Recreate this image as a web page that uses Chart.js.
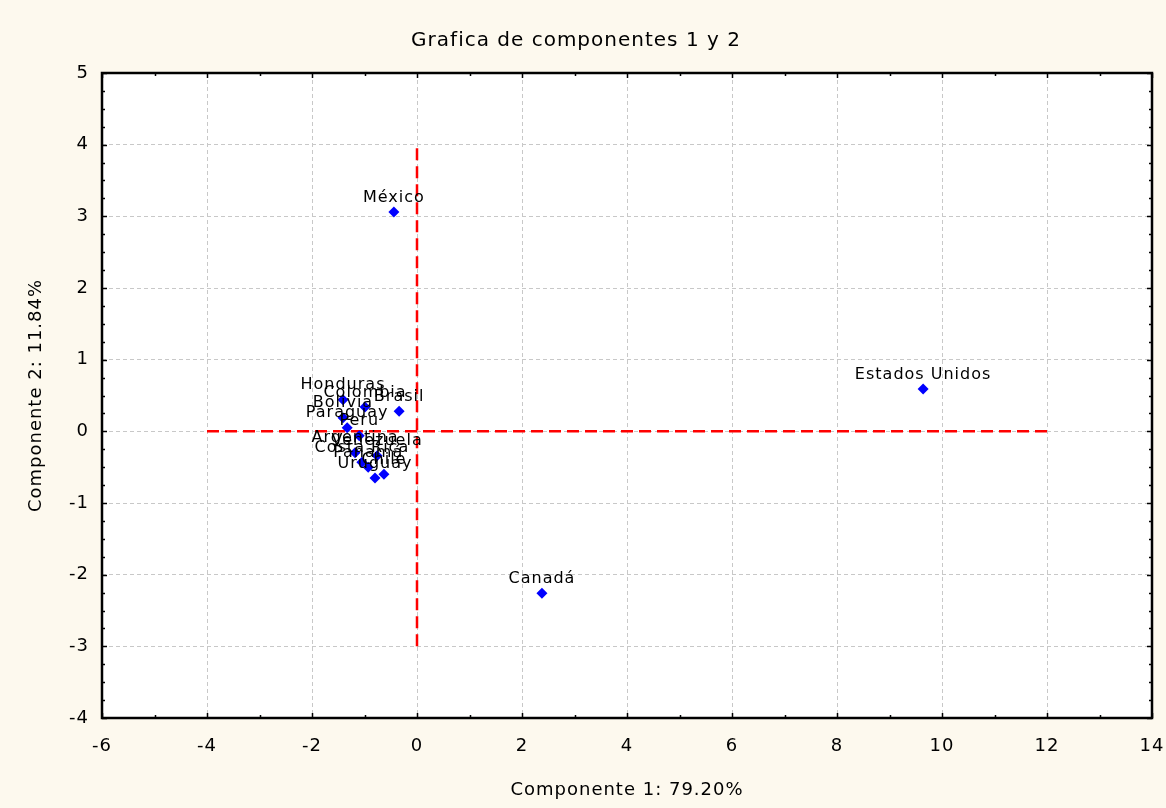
<!DOCTYPE html>
<html lang="es">
<head>
    <meta charset="UTF-8">
    <title>Grafica de componentes 1 y 2</title>
    <script src="https://cdn.jsdelivr.net/npm/chart.js"></script>
    <style>
        body { margin: 0; background: #fdf9ee; }
    </style>
</head>
<body>
    <canvas id="grafica" width="1166" height="808"></canvas>

    <script>
        // Datos
        const paises = ['México', 'Estados Unidos', 'Canadá', 'Honduras', 'Colombia', 'Brasil', 'Bolivia',
                        'Paraguay', 'Peru', 'Argentina', 'Venezuela', 'Costa Rica', 'Panamá', 'Chile', 'Uruguay'];
        const comp1 = [-0.44, 9.64, 2.38, -1.41, -0.99, -0.34, -1.41, -1.33, -1.10, -1.18, -0.76, -1.05, -0.93, -0.63, -0.80];
        const comp2 = [3.06, 0.59, -2.26, 0.44, 0.34, 0.28, 0.19, 0.05, -0.06, -0.30, -0.34, -0.43, -0.50, -0.60, -0.65];

        // Lineas de referencia (ejes en cero)
        const lineaHx = [-4, 12];
        const lineaHy = [0, 0];
        const lineaVx = [0, 0];
        const lineaVy = [-3, 4];

        const xTicks = { min: -6, max: 14, paso: 2, menor: 1 };
        const yTicks = { min: -4, max: 5, paso: 1, menor: 0.25 };

        const fuente = "'DejaVu Sans', Verdana, sans-serif";

        // fondo crema y area blanca
        const fondo = {
            id: 'fondo',
            beforeDraw(chart) {
                const ctx = chart.ctx;
                const a = chart.chartArea;
                ctx.save();
                ctx.fillStyle = '#fdf9ee';
                ctx.fillRect(0, 0, chart.width, chart.height);
                ctx.fillStyle = '#ffffff';
                ctx.fillRect(a.left, a.top, a.right - a.left, a.bottom - a.top);
                ctx.restore();
                ctx.letterSpacing = '1px';
            }
        };

        // nombres de los paises encima de cada punto
        const etiquetas = {
            id: 'etiquetas',
            afterDatasetsDraw(chart) {
                const ctx = chart.ctx;
                const meta = chart.getDatasetMeta(0);
                ctx.save();
                ctx.letterSpacing = '1px';
                ctx.font = '16px ' + fuente;
                ctx.fillStyle = '#000000';
                ctx.textAlign = 'center';
                ctx.textBaseline = 'middle';
                meta.data.forEach((p, i) => {
                    ctx.fillText(paises[i], p.x, p.y - 14.5);
                });
                ctx.restore();
            }
        };

        // marco negro con marcas hacia dentro
        const marco = {
            id: 'marco',
            afterDraw(chart) {
                const ctx = chart.ctx;
                const a = chart.chartArea;
                const xs = chart.scales.x, ys = chart.scales.y;
                ctx.save();
                ctx.strokeStyle = '#000000';
                ctx.lineWidth = 1.5;
                ctx.beginPath();
                for (let v = xTicks.min; v <= xTicks.max; v += xTicks.menor) {
                    const px = Math.round(xs.getPixelForValue(v)) + 0.5;
                    const len = (v - xTicks.min) % xTicks.paso === 0 ? 5 : 3;
                    ctx.moveTo(px, a.bottom); ctx.lineTo(px, a.bottom - len);
                    ctx.moveTo(px, a.top); ctx.lineTo(px, a.top + len);
                }
                for (let v = yTicks.min; v <= yTicks.max + 1e-9; v += yTicks.menor) {
                    const py = Math.round(ys.getPixelForValue(v)) + 0.5;
                    const len = Math.abs(v - Math.round(v)) < 1e-9 ? 5 : 3;
                    ctx.moveTo(a.left, py); ctx.lineTo(a.left + len, py);
                    ctx.moveTo(a.right, py); ctx.lineTo(a.right - len, py);
                }
                ctx.stroke();
                ctx.lineWidth = 2.5;
                ctx.strokeRect(a.left, a.top, a.right - a.left, a.bottom - a.top);
                ctx.restore();
            }
        };

        const puntos = paises.map((p, i) => ({ x: comp1[i], y: comp2[i] }));

        window.onload = () => {
            const ctx = document.getElementById('grafica').getContext('2d');
            new Chart(ctx, {
                type: 'scatter',
                data: {
                    datasets: [
                        {
                            label: 'Paises',
                            data: puntos,
                            pointStyle: 'rectRot',
                            pointRadius: 5.5,
                            backgroundColor: '#0000ff',
                            borderColor: '#0000ff',
                            borderWidth: 0
                        },
                        {
                            type: 'line',
                            label: 'Componente 2 = 0',
                            data: lineaHx.map((x, i) => ({ x: x, y: lineaHy[i] })),
                            borderColor: '#ff0000',
                            borderWidth: 2.5,
                            borderDash: [12, 6],
                            pointRadius: 0,
                            fill: false
                        },
                        {
                            type: 'line',
                            label: 'Componente 1 = 0',
                            data: lineaVx.map((x, i) => ({ x: x, y: lineaVy[i] })),
                            borderColor: '#ff0000',
                            borderWidth: 2.5,
                            borderDash: [12, 6],
                            pointRadius: 0,
                            fill: false
                        }
                    ]
                },
                options: {
                    responsive: false,
                    animation: false,
                    layout: { padding: { left: 0, right: 14, top: 0, bottom: 0 } },
                    plugins: {
                        legend: { display: false },
                        tooltip: { enabled: false },
                        title: {
                            display: true,
                            text: 'Grafica de componentes 1 y 2',
                            color: '#000000',
                            font: { family: fuente, size: 20, weight: 'normal' },
                            padding: { top: 29, bottom: 20 }
                        }
                    },
                    scales: {
                        x: {
                            type: 'linear',
                            min: xTicks.min,
                            max: xTicks.max,
                            afterFit(scale) {
                                scale.height = 90;
                                scale.paddingLeft = 0;
                                scale.paddingRight = 0;
                            },
                            ticks: {
                                stepSize: xTicks.paso,
                                color: '#000000',
                                padding: 18,
                                font: { family: fuente, size: 18 }
                            },
                            grid: { color: '#c8c8c8', drawTicks: false, lineWidth: 1 },
                            border: { display: false, dash: [4, 3] },
                            title: {
                                display: true,
                                text: 'Componente 1: 79.20%',
                                color: '#000000',
                                font: { family: fuente, size: 18 },
                                padding: { top: 0, bottom: 7 }
                            }
                        },
                        y: {
                            type: 'linear',
                            min: yTicks.min,
                            max: yTicks.max,
                            afterFit(scale) {
                                scale.width = 102;
                                scale.paddingTop = 0;
                                scale.paddingBottom = 0;
                            },
                            ticks: {
                                stepSize: yTicks.paso,
                                color: '#000000',
                                padding: 13,
                                font: { family: fuente, size: 18 }
                            },
                            grid: { color: '#c8c8c8', drawTicks: false, lineWidth: 1 },
                            border: { display: false, dash: [4, 3] },
                            title: {
                                display: true,
                                text: 'Componente 2: 11.84%',
                                color: '#000000',
                                font: { family: fuente, size: 18 },
                                padding: { top: 26, bottom: 0 }
                            }
                        }
                    }
                },
                plugins: [fondo, etiquetas, marco]
            });
        };
    </script>
</body>
</html>
